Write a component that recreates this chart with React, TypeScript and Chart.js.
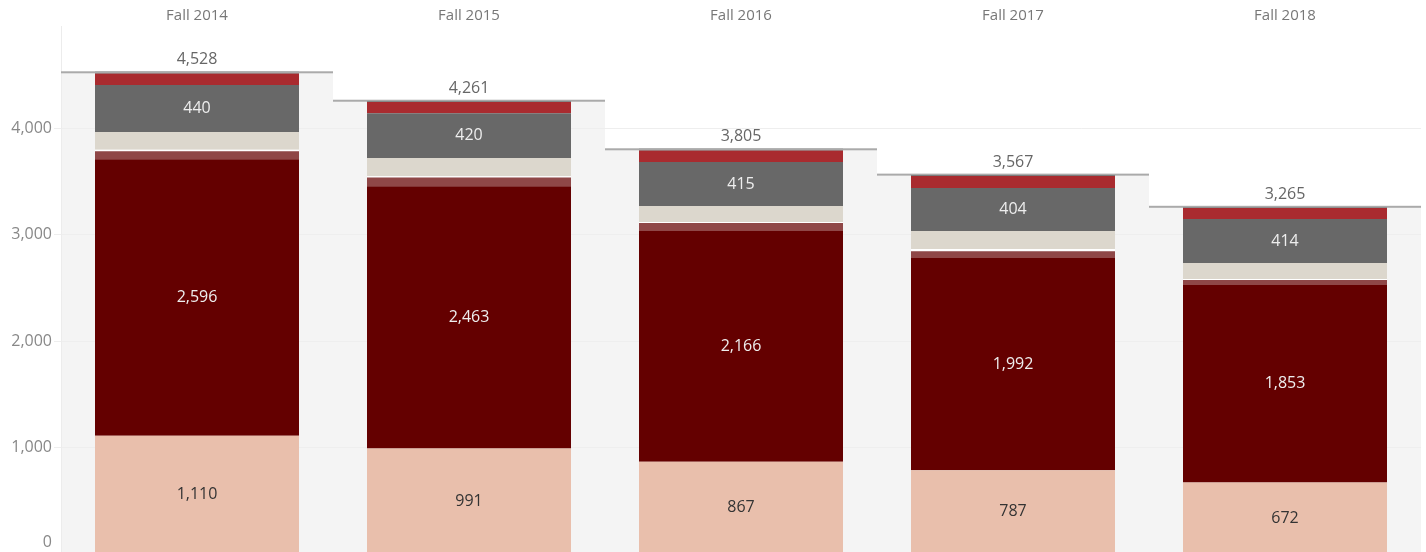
import React, { useEffect, useRef } from "react";
import { Chart, registerables } from "chart.js";

Chart.register(...registerables);

const CATEGORIES = ["Fall 2014", "Fall 2015", "Fall 2016", "Fall 2017", "Fall 2018"];
const TOTALS = [4528, 4261, 3805, 3567, 3265];

// stacked segments, bottom to top
const PEACH = [1110, 991, 867, 787, 672];
const MAROON = [2596, 2463, 2166, 1992, 1853];
const MID_MAROON = [77, 82, 74, 64, 47];
const WHITE_SEG = [12, 11, 10, 20, 10];
const BEIGE = [168, 172, 150, 170, 150];
const GREY = [440, 420, 415, 404, 414];
const RED = [110, 105, 108, 112, 102];
const BLACK = [15, 17, 15, 18, 17];

const Y_TICKS = [0, 1000, 2000, 3000, 4000];
const Y_MAX = 4958;

const FONT = "'Open Sans', 'DejaVu Sans', sans-serif";

const fmt = (v: number) => v.toLocaleString("en-US");

const SERIES = [
  { label: "Peach", data: PEACH, color: "#e9bfac", text: "#333333", show: true },
  { label: "Maroon", data: MAROON, color: "#640000", text: "#eeeeee", show: true },
  { label: "Mid maroon", data: MID_MAROON, color: "#8f4747", text: "", show: false },
  { label: "White", data: WHITE_SEG, color: "#ffffff", text: "", show: false },
  { label: "Beige", data: BEIGE, color: "#dcd7cd", text: "", show: false },
  { label: "Grey", data: GREY, color: "#686868", text: "#eeeeee", show: true },
  { label: "Red", data: RED, color: "#a92b2f", text: "", show: false },
  { label: "Black", data: BLACK, color: "#2a2a2a", text: "", show: false },
];

const panelPlugin = {
  id: "panels",
  beforeDraw(chart: any) {
    const { ctx, chartArea, scales } = chart;
    const x = scales.x;
    const y = scales.y;
    const w = chartArea.width / CATEGORIES.length;
    ctx.save();
    ctx.fillStyle = "#ffffff";
    ctx.fillRect(0, 0, chart.width, chart.height);
    TOTALS.forEach((t, i) => {
      const cx = x.getPixelForValue(i);
      const top = y.getPixelForValue(t);
      ctx.fillStyle = "#f4f4f4";
      ctx.fillRect(cx - w / 2, top, w, chartArea.bottom - top);
    });
    ctx.restore();
  },
  afterDatasetsDraw(chart: any) {
    const { ctx, chartArea, scales } = chart;
    const x = scales.x;
    const y = scales.y;
    const w = chartArea.width / CATEGORIES.length;
    ctx.save();
    ctx.font = `16px ${FONT}`;
    ctx.textAlign = "center";
    ctx.textBaseline = "middle";
    SERIES.forEach((s, di) => {
      if (!s.show) return;
      const meta = chart.getDatasetMeta(di);
      meta.data.forEach((el: any, j: number) => {
        const cy = (el.y + el.base) / 2;
        ctx.fillStyle = s.text;
        ctx.fillText(fmt(s.data[j]), el.x, cy);
      });
    });
    TOTALS.forEach((t, i) => {
      const cx = x.getPixelForValue(i);
      const py = y.getPixelForValue(t);
      ctx.fillStyle = "#aaaaaa";
      ctx.fillRect(cx - w / 2, py - 0.5, w, 2);
      ctx.fillStyle = "#666666";
      ctx.fillText(fmt(t), cx, py - 12);
    });
    ctx.textAlign = "right";
    ctx.fillStyle = "#888888";
    y.ticks.forEach((tk: any) => {
      let py = y.getPixelForValue(tk.value);
      py = Math.min(py, chartArea.bottom - 12);
      ctx.fillText(fmt(tk.value), chartArea.left - 9, py);
    });
    ctx.restore();
  },
};

export default function App() {
  const ref = useRef<HTMLCanvasElement>(null);
  useEffect(() => {
    const chart = new Chart(ref.current as HTMLCanvasElement, {
      type: "bar",
      data: {
        labels: CATEGORIES,
        datasets: SERIES.map((s) => ({
          label: s.label,
          data: s.data,
          backgroundColor: s.color,
          borderWidth: 0,
          categoryPercentage: 1,
          barPercentage: 0.75,
          stack: "s",
        })),
      },
      options: {
        animation: false,
        responsive: false,
        devicePixelRatio: 1,
        layout: { padding: { top: 0, right: 5, left: 0, bottom: 0 } },
        plugins: { legend: { display: false }, tooltip: { enabled: false } },
        scales: {
          x: {
            stacked: true,
            position: "top",
            grid: { display: false, drawTicks: false },
            border: { display: false },
            ticks: { color: "#777777", font: { family: FONT, size: 15 }, padding: 1 },
            afterFit: (scale: any) => {
              scale.height = 26;
            },
          },
          y: {
            stacked: true,
            min: 0,
            max: Y_MAX,
            grid: { color: "#eeeeee", tickColor: "#eeeeee", tickLength: 7, drawTicks: true },
            border: { display: true, color: "#ececec" },
            ticks: { display: false },
            afterBuildTicks: (scale: any) => {
              scale.ticks = Y_TICKS.map((v) => ({ value: v }));
            },
            afterFit: (scale: any) => {
              scale.width = 61;
            },
          },
        },
      },
      plugins: [panelPlugin],
    });
    return () => chart.destroy();
  }, []);
  return (
    <div style={{ position: "fixed", left: 0, top: 0, width: 1426, height: 552, overflow: "hidden", background: "#fff" }}>
      <canvas ref={ref} width={1426} height={554} style={{ display: "block", width: 1426, height: 554 }} />
    </div>
  );
}
